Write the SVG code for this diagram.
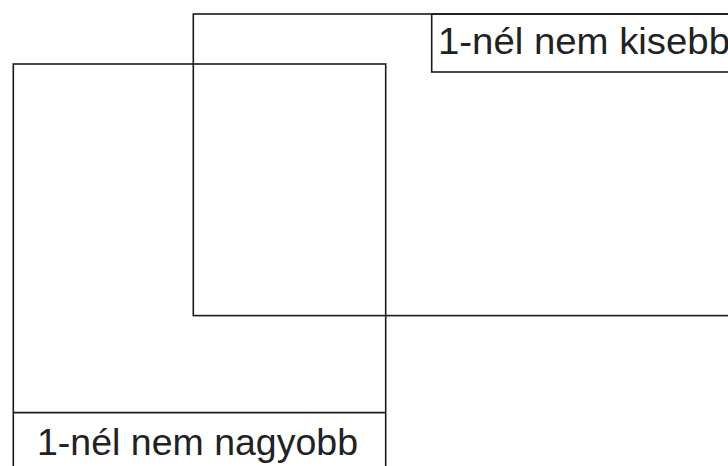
<svg xmlns="http://www.w3.org/2000/svg" width="728" height="466" viewBox="0 0 728 466">
<style>
.box{fill:none;stroke:#1a1a1a;stroke-width:1.6}
.lbl{font-family:"Liberation Sans",Arial,sans-serif;font-size:36px;fill:#222}
</style>
<rect x="0" y="0" width="728" height="466" fill="#ffffff"/>
<g id="kisebb">
<rect class="box" x="193.3" y="14" width="545" height="301.6"/>
<rect class="box" x="431.7" y="14" width="310" height="58"/>
<text class="lbl" x="438" y="54" textLength="292" lengthAdjust="spacingAndGlyphs">1-nél nem kisebb</text>
</g>
<g id="nagyobb">
<rect class="box" x="13.3" y="64" width="372.4" height="420"/>
<line class="box" x1="13.3" y1="412.6" x2="385.7" y2="412.6"/>
<text class="lbl" x="37" y="455" textLength="321" lengthAdjust="spacingAndGlyphs">1-nél nem nagyobb</text>
</g>
<g id="connectors"/>
</svg>
